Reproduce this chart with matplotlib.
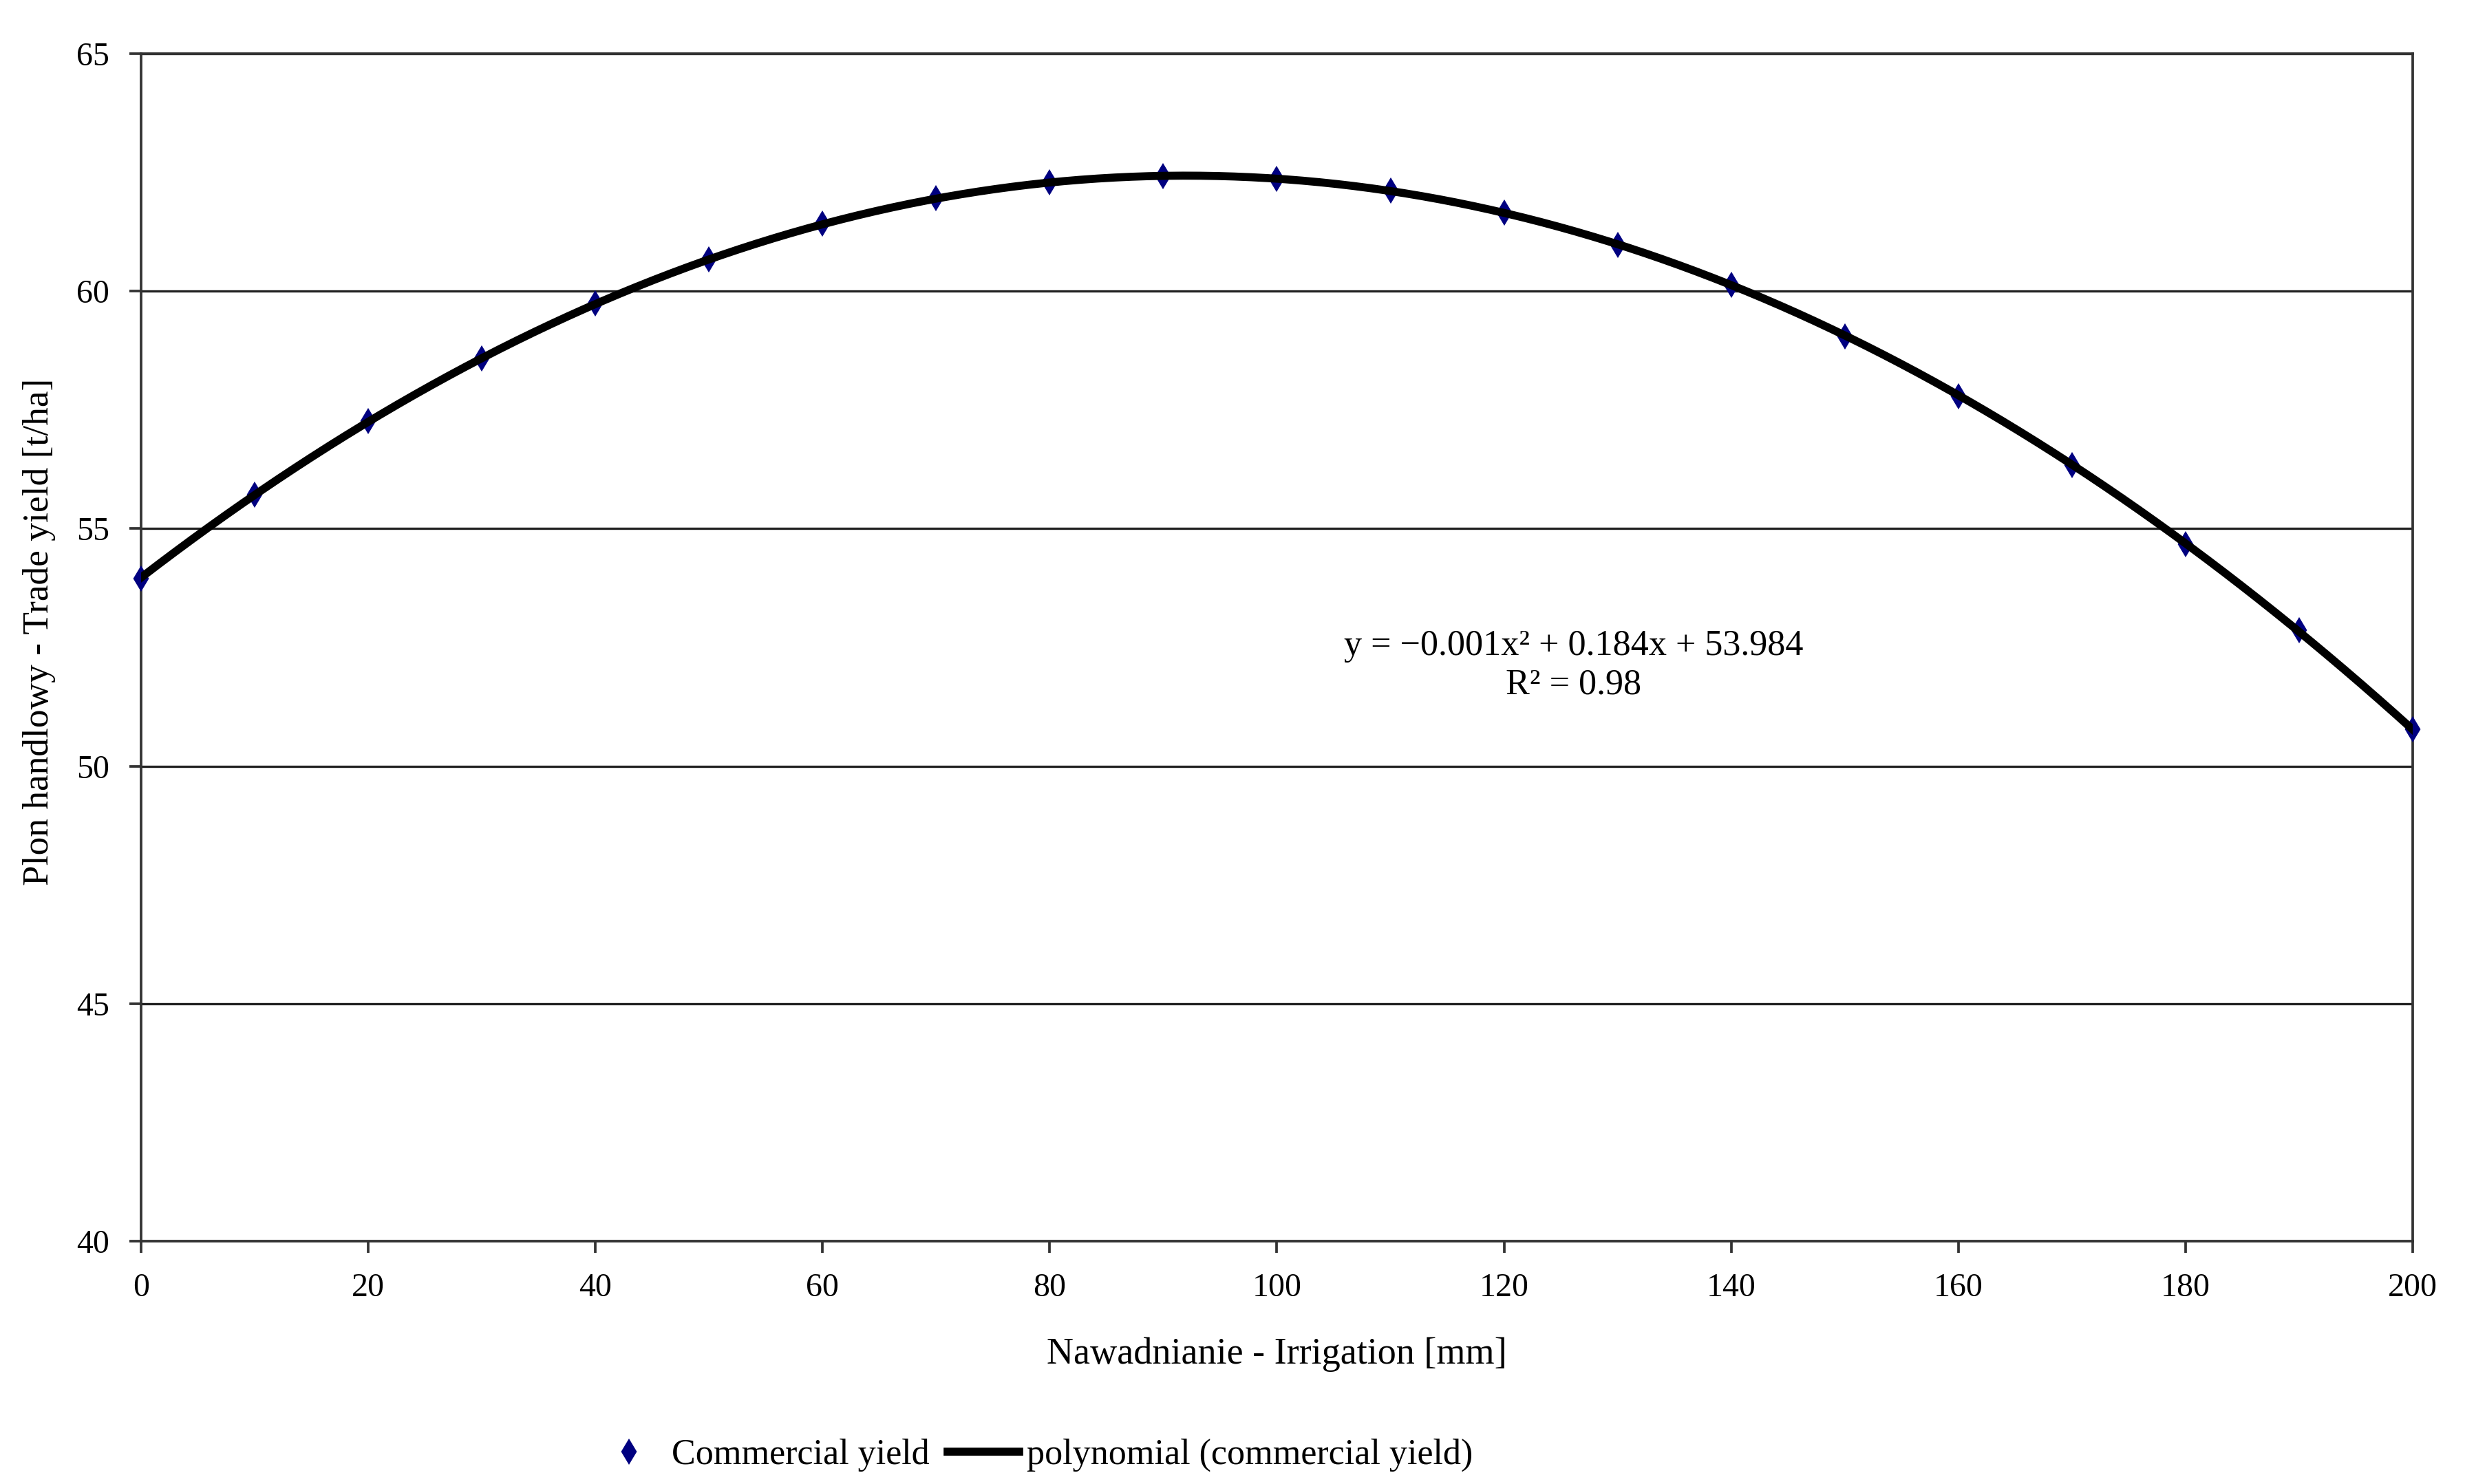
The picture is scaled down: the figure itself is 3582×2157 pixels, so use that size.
import numpy as np
import matplotlib
matplotlib.use("Agg")
import matplotlib.pyplot as plt

plt.rcParams["font.family"] = ["Liberation Serif", "DejaVu Serif"]

# irrigation dose [mm] and commercial yield [t/ha]
irrigation = [0, 10, 20, 30, 40, 50, 60, 70, 80, 90, 100,
              110, 120, 130, 140, 150, 160, 170, 180, 190, 200]
yield_t = [53.95, 55.71, 57.26, 58.58, 59.74, 60.67, 61.43, 61.96, 62.29, 62.42, 62.36,
           62.12, 61.66, 60.97, 60.14, 59.05, 57.79, 56.34, 54.68, 52.86, 50.78]

x_ticks = list(range(0, 201, 20))
y_ticks = [40, 45, 50, 55, 60, 65]

equation = "y = \u22120.001x\u00b2 + 0.184x + 53.984\nR\u00b2 = 0.98"

# quadratic trend fitted to the points
coef = np.polyfit(irrigation, yield_t, 2)
xs = np.linspace(min(irrigation), max(irrigation), 400)
ys = np.polyval(coef, xs)

fig = plt.figure(figsize=(3582 / 300, 2157 / 300), dpi=300)
ax = fig.add_axes([0.0572, 0.1636, 0.9216, 0.8002])

ax.plot(irrigation, yield_t, linestyle="none", marker="d", markersize=5,
        color="#000080", label="Commercial yield", zorder=3, clip_on=False)
ax.plot(xs, ys, color="black", linewidth=2.8,
        label="polynomial (commercial yield)", zorder=4)

ax.set_xlim(0, 200)
ax.set_ylim(40, 65)
ax.set_xticks(x_ticks)
ax.set_yticks(y_ticks)
ax.yaxis.grid(True, color="#222222", linewidth=0.8)
ax.set_axisbelow(True)
for s in ax.spines.values():
    s.set_color("#333333")
    s.set_linewidth(0.9)
ax.tick_params(axis="both", direction="out", length=4, width=0.9,
               color="#333333", labelsize=11.5, pad=7)

ax.set_xlabel("Nawadnianie - Irrigation [mm]", fontsize=13, va="center")
ax.set_ylabel("Plon handlowy - Trade yield [t/ha]", fontsize=12.8, va="center")
ax.xaxis.set_label_coords(0.5, -0.0956)
ax.yaxis.set_label_coords(-0.0448, 0.513)

ax.text(126.1, 52.12, equation, ha="center", va="center",
        fontsize=12.5, linespacing=1.25)

fig.legend(loc="center", bbox_to_anchor=(0.419, 0.0195), ncol=2,
           frameon=False, fontsize=12.5, handlelength=2.0, handletextpad=0.2,
           columnspacing=0.5, numpoints=1)

fig.savefig("out.png", dpi=300)
